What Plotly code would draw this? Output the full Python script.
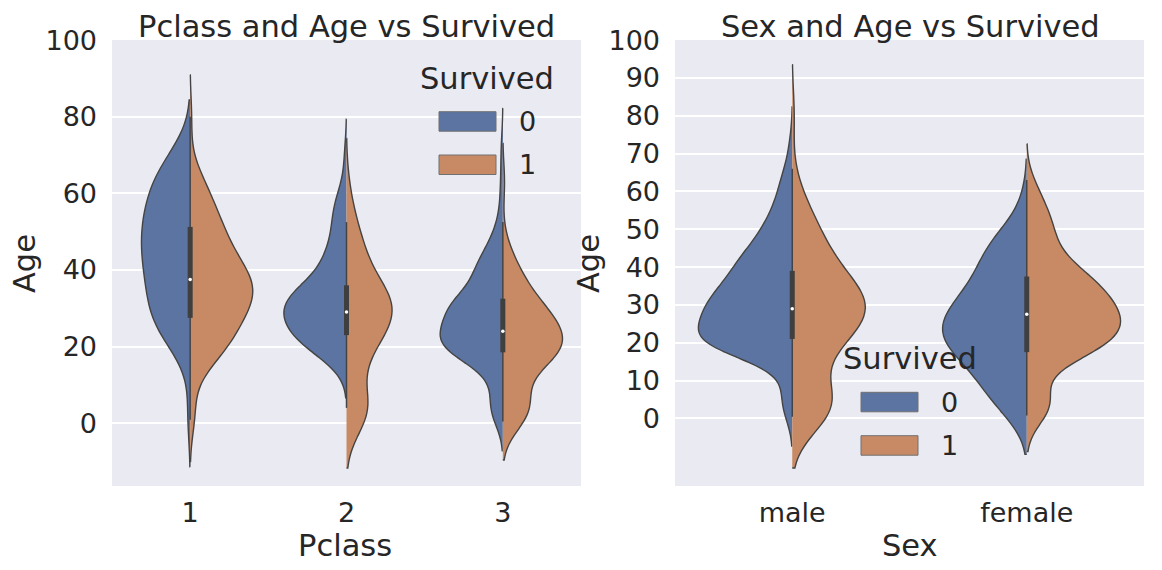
import numpy as np
import plotly.graph_objects as go

# ---------------- data (ages with counts) ----------------
pclass_labels = ['1', '2', '3']
sex_labels = ['male', 'female']
survived_labels = ['0', '1']

# Pclass 1
c1_dead_age = [2, 17.5, 22.5, 27.5, 32.5, 37.5, 42.5, 47.5, 52.5, 57.5, 62.5, 67.5, 71]
c1_dead_cnt = [1, 1, 5, 6, 6, 6, 7, 7, 7, 6, 6, 4, 2]
c1_surv_age = [0.92, 2, 4, 11, 14.5, 17.5, 22.5, 27.5, 32.5, 37.5, 42.5, 47.5, 52.5, 57.5, 62.5, 67.5, 80]
c1_surv_cnt = [1, 1, 1, 1, 2, 8, 13, 13, 19, 18, 13, 10, 9, 6, 5, 1, 1]
# Pclass 2
c2_dead_age = [16, 18, 19, 21, 23, 24, 26, 28, 29, 32.5, 35, 36, 39, 42.5, 47.5, 52.5, 57.5, 62.5, 70]
c2_dead_cnt = [1, 4, 3, 5, 6, 5, 6, 6, 7, 15, 4, 4, 3, 7, 4, 4, 4, 1, 1]
c2_surv_age = [0.67, 0.83, 1, 2, 3, 4, 5, 6, 7, 8, 13, 14, 16, 18, 19, 21, 23, 24, 26, 28, 29,
               32.5, 35, 36, 39, 42.5, 47.5, 52.5, 57.5, 62]
c2_surv_cnt = [1, 1, 2, 2, 3, 2, 1, 1, 1, 2, 1, 2, 2, 2, 1, 3, 4, 3, 5, 4, 5,
               12, 3, 3, 2, 6, 4, 3, 1, 1]
# Pclass 3
c3_dead_age = [1, 2, 3, 4, 7.5, 12.5, 16, 18, 19, 21, 22, 24, 26, 28, 29, 31, 32, 33, 36, 38, 39,
               42.5, 47.5, 52.5, 57.5, 62.5, 67.5, 70.5, 74]
c3_dead_cnt = [3, 4, 2, 4, 8, 8, 12, 16, 12, 18, 19, 20, 13, 14, 15, 13, 13, 11, 9, 9, 8,
               18, 10, 4, 2, 2, 1, 1, 1]
c3_surv_age = [0.42, 0.75, 1, 2, 3, 4, 5, 6, 8, 9, 13, 15, 16, 18, 19, 21, 22, 24, 26, 28, 29,
               31, 32, 33, 37.5, 42.5, 47.5, 63]
c3_surv_cnt = [1, 2, 2, 1, 1, 3, 2, 1, 3, 1, 3, 2, 5, 5, 4, 6, 6, 5, 5, 4, 4,
               3, 3, 2, 6, 3, 1, 1]
# Male
m_dead_age = [1, 2, 3, 4, 7.5, 12.5, 16, 18, 19, 21, 22, 24, 26, 28, 29, 31, 33, 34, 36, 38, 39,
              42.5, 47.5, 52.5, 57.5, 62.5, 66, 70.5, 74]
m_dead_cnt = [2, 3, 1, 2, 6, 4, 12, 17, 17, 24, 20, 18, 20, 19, 19, 16, 16, 16, 13, 13, 12,
              30, 22, 15, 10, 7, 3, 2, 1]
m_surv_age = [0.42, 0.67, 0.83, 0.92, 1, 2, 3, 4, 6, 7.5, 9, 11, 12, 16, 18, 19, 21, 22, 24,
              26, 28, 29, 31, 33, 34, 36, 38, 39, 42.5, 47.5, 52.5, 57.5, 62.5, 80]
m_surv_cnt = [1, 1, 2, 1, 3, 1, 3, 2, 2, 2, 2, 1, 1, 2, 2, 2, 4, 3, 3,
              5, 5, 5, 5, 4, 4, 3, 3, 2, 6, 5, 4, 2, 1, 1]
# Female
f_dead_age = [2, 4, 6, 8.5, 10, 12.5, 17.5, 22.5, 27.5, 32.5, 37.5, 42.5, 47.5, 50, 57]
f_dead_cnt = [3, 1, 1, 3, 2, 3, 9, 10, 9, 7, 5, 5, 4, 1, 1]
f_surv_age = [0.75, 1, 2, 3, 4, 5, 7.5, 12.5, 17.5, 22.5, 27.5, 32.5, 37.5, 42.5, 47.5, 52.5, 57.5, 61, 63]
f_surv_cnt = [2, 2, 2, 2, 4, 3, 3, 5, 24, 33, 31, 27, 22, 11, 9, 9, 5, 2, 1]

# ---------------- styling ----------------
BLUE = '#5b74a1'
ORANGE = '#c78a64'
EDGE = '#444444'
BG = '#eaeaf2'
TXT = '#262626'
FONT = 'DejaVu Sans'
OX, OY = 8, 8              # page body margin of the browser
W, H = 1162 - 2 * OX, 570 - 2 * OY


def expand(ages, counts):
    return np.repeat(np.asarray(ages, float), np.asarray(counts, int))


def scott_bw(v):
    return float(np.std(v, ddof=1) * len(v) ** (-1 / 5))


left_groups = {
    '1': (expand(c1_dead_age, c1_dead_cnt), expand(c1_surv_age, c1_surv_cnt)),
    '2': (expand(c2_dead_age, c2_dead_cnt), expand(c2_surv_age, c2_surv_cnt)),
    '3': (expand(c3_dead_age, c3_dead_cnt), expand(c3_surv_age, c3_surv_cnt)),
}
right_groups = {
    'male': (expand(m_dead_age, m_dead_cnt), expand(m_surv_age, m_surv_cnt)),
    'female': (expand(f_dead_age, f_dead_cnt), expand(f_surv_age, f_surv_cnt)),
}

fig = go.Figure()


def add_panel(groups, xa, ya, tag):
    wx, wy, ix, iy, mx, my = [], [], [], [], [], []
    for cat, (dead, surv) in groups.items():
        for vals, side, col in ((dead, 'negative', BLUE), (surv, 'positive', ORANGE)):
            fig.add_trace(go.Violin(
                x=[cat] * len(vals), y=vals, side=side,
                scalegroup=f'{tag}{cat}', scalemode='width',
                bandwidth=scott_bw(vals), spanmode='soft', points=False,
                fillcolor=col, line=dict(color=EDGE, width=1.4),
                box_visible=False, meanline_visible=False,
                showlegend=False, hoverinfo='skip', xaxis=xa, yaxis=ya))
        allv = np.concatenate([dead, surv])
        q1, q2, q3 = np.percentile(allv, [25, 50, 75])
        iqr = q3 - q1
        lo = allv[allv >= q1 - 1.5 * iqr].min()
        hi = allv[allv <= q3 + 1.5 * iqr].max()
        wx += [cat, cat, None]; wy += [lo, hi, None]
        ix += [cat, cat, None]; iy += [q1, q3, None]
        mx.append(cat); my.append(q2)
    fig.add_trace(go.Scatter(x=wx, y=wy, mode='lines', line=dict(color=EDGE, width=1.5),
                             showlegend=False, hoverinfo='skip', xaxis=xa, yaxis=ya))
    fig.add_trace(go.Scatter(x=ix, y=iy, mode='lines', line=dict(color='#3f3f3f', width=5),
                             showlegend=False, hoverinfo='skip', xaxis=xa, yaxis=ya))
    fig.add_trace(go.Scatter(x=mx, y=my, mode='markers', marker=dict(color='white', size=3.5),
                             showlegend=False, hoverinfo='skip', xaxis=xa, yaxis=ya))


add_panel(left_groups, 'x', 'y', 'L')
add_panel(right_groups, 'x2', 'y2', 'R')


def px(x):
    return (x - OX) / W


def py(y):
    return 1 - (y - OY) / H


axis_common = dict(showline=False, zeroline=False, ticks='', automargin=False,
                   tickfont=dict(family=FONT, size=27, color=TXT))
fig.update_layout(
    width=W, height=H, margin=dict(l=0, r=0, t=0, b=0),
    paper_bgcolor='white', plot_bgcolor=BG,
    violinmode='overlay', violingap=0.2, violingroupgap=0,
    font=dict(family=FONT, color=TXT),
    xaxis=dict(domain=[px(112), px(581)], type='category', categoryorder='array',
               categoryarray=pclass_labels, range=[-0.5, 2.5], showgrid=False,
               anchor='y', ticklabelstandoff=8, **axis_common),
    yaxis=dict(domain=[py(486), py(40)], range=[-16.4, 100.05], tick0=0, dtick=20,
               gridcolor='white', gridwidth=1.5, anchor='x', ticklabelstandoff=14, **axis_common),
    xaxis2=dict(domain=[px(675), px(1144)], type='category', categoryorder='array',
                categoryarray=sex_labels, range=[-0.5, 1.5], showgrid=False,
                anchor='y2', ticklabelstandoff=8, **axis_common),
    yaxis2=dict(domain=[py(486), py(40)], range=[-17.9, 100.05],
                tickvals=list(range(0, 101, 10)), gridcolor='white', gridwidth=1.5,
                anchor='x2', ticklabelstandoff=14, **axis_common),
)

ann = []


def text(x, y, s, size, angle=0):
    ann.append(dict(x=px(x), y=py(y), xref='paper', yref='paper', text=s, showarrow=False,
                    xanchor='center', yanchor='middle', textangle=angle, borderpad=0,
                    font=dict(family=FONT, size=size, color=TXT)))


text(346, 26, 'Pclass and Age vs Survived', 30.5)
text(910, 26, 'Sex and Age vs Survived', 30.5)
text(345, 545, 'Pclass', 30.5)
text(910, 545, 'Sex', 30.5)
text(24, 264, 'Age', 30.5, -90)
text(588, 264, 'Age', 30.5, -90)

# legends (drawn as patches + real text)
shapes = []


def legend(tx, ty, x0, x1, yb, yo, lx):
    text(tx, ty, 'Survived', 30.5)
    for (y0, y1), col, lab in (((yb, yb + 19.5), BLUE, survived_labels[0]),
                               ((yo, yo + 19.5), ORANGE, survived_labels[1])):
        shapes.append(dict(type='rect', xref='paper', yref='paper', x0=px(x0), x1=px(x1),
                           y0=py(y1), y1=py(y0), fillcolor=col, line=dict(color='#707070', width=1),
                           layer='above'))
        text(lx, (y0 + y1) / 2, lab, 27)


legend(486.5, 78, 439, 496, 111.7, 155, 527.5)
legend(910, 358, 861, 918, 392.3, 435.7, 949)

fig.update_layout(annotations=ann, shapes=shapes)
fig.write_html('out.html')
